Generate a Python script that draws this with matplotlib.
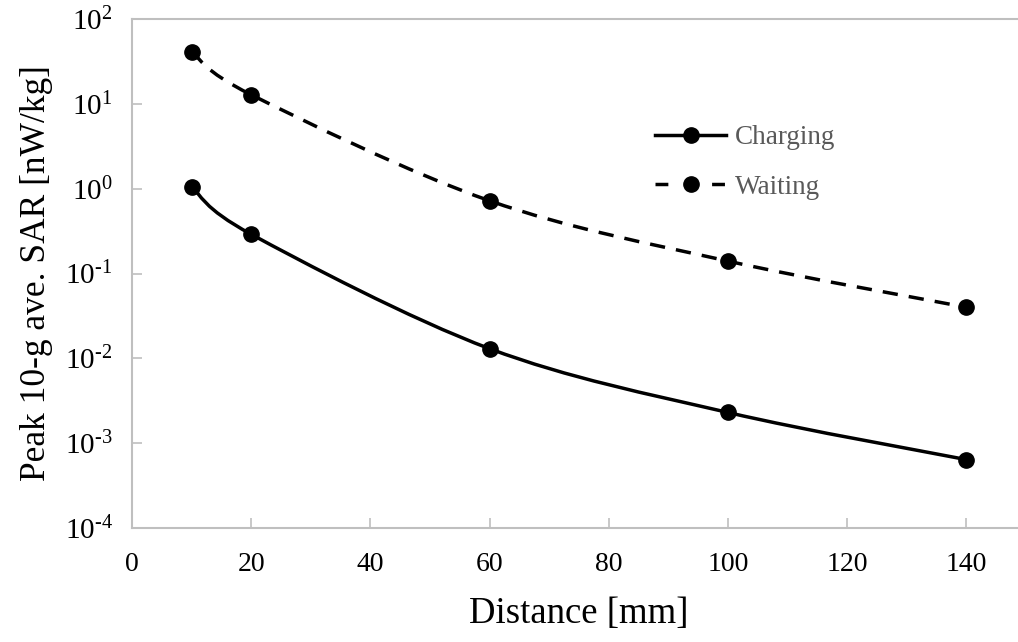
import matplotlib
matplotlib.use("Agg")
import numpy as np
import matplotlib.pyplot as plt
from matplotlib.path import Path
from matplotlib.patches import PathPatch
from matplotlib.lines import Line2D

plt.rcParams['font.family'] = ['Liberation Serif', 'DejaVu Serif']
plt.rcParams['mathtext.fontset'] = 'custom'
plt.rcParams['mathtext.rm'] = 'Liberation Serif'
plt.rcParams['mathtext.it'] = 'Liberation Serif:italic'

# data
distance = [10, 20, 60, 100, 140]
sar_charging = [1.05, 0.29, 0.013, 0.0023, 0.00064]
sar_waiting = [41, 12.8, 0.72, 0.14, 0.040]

x_ticks = [0, 20, 40, 60, 80, 100, 120, 140]
y_exponents = [-4, -3, -2, -1, 0, 1, 2]


def smooth_path(xs, ys):
    # Catmull-Rom style bezier through the points, built in (x, log y) space
    px = np.array(xs, dtype=float)
    py = np.log10(np.array(ys, dtype=float))
    n = len(px)
    verts = [(px[0], py[0])]
    codes = [Path.MOVETO]
    for i in range(n - 1):
        i0 = max(i - 1, 0)
        i3 = min(i + 2, n - 1)
        c1 = (px[i] + (px[i + 1] - px[i0]) / 6, py[i] + (py[i + 1] - py[i0]) / 6)
        c2 = (px[i + 1] - (px[i3] - px[i]) / 6, py[i + 1] - (py[i3] - py[i]) / 6)
        verts += [c1, c2, (px[i + 1], py[i + 1])]
        codes += [Path.CURVE4] * 3
    verts = [(vx, 10 ** vy) for vx, vy in verts]
    return Path(verts, codes)


fig = plt.figure(figsize=(10.18, 6.42), dpi=100)
ax = fig.add_axes([132 / 1018, (642 - 528) / 642, (1026 - 132) / 1018, (528 - 19) / 642])
ax.set_yscale('log')
ax.set_xlim(0, 150)
ax.set_ylim(1e-4, 1e2)

lw = 2.5
ms = 11
ax.add_patch(PathPatch(smooth_path(distance, sar_charging), fill=False,
                       edgecolor='black', lw=lw, capstyle='butt'))
ax.add_patch(PathPatch(smooth_path(distance, sar_waiting), fill=False,
                       edgecolor='black', lw=lw, linestyle=(0, (4.4, 3.2)), capstyle='butt'))
ax.plot(distance, sar_charging, 'o', color='black', ms=ms, zorder=3)
ax.plot(distance, sar_waiting, 'o', color='black', ms=ms, zorder=3)

ax.set_xticks(x_ticks)
ax.set_yticks([10.0 ** e for e in y_exponents])
ax.set_yticklabels(['10$^{\\text{%d}}$' % e for e in y_exponents])
ax.minorticks_off()
ax.tick_params(axis='both', direction='in', length=7, width=1.2, color='#bfbfbf')
ax.tick_params(axis='x', pad=17, labelsize=20)
ax.tick_params(axis='y', pad=14, labelsize=21)
for side in ['left', 'bottom', 'top']:
    ax.spines[side].set_color('#bfbfbf')
    ax.spines[side].set_linewidth(1.5)
ax.spines['right'].set_visible(False)

ax.set_xlabel('Distance [mm]', fontsize=26.5, labelpad=14)
ax.set_ylabel('Peak 10-g ave. SAR [nW/kg]', fontsize=25.5, labelpad=8)

handles = [
    Line2D([], [], color='black', lw=lw, marker='o', ms=ms),
    Line2D([], [], color='black', lw=lw, marker='o', ms=ms, linestyle=(0, (3.7, 12.6))),
]
leg = ax.legend(handles, ['Charging', 'Waiting'], loc='upper left',
                bbox_to_anchor=(631 / 1018, 1 - 101 / 642), bbox_transform=fig.transFigure,
                frameon=False, fontsize=19.5, handlelength=2.6, handletextpad=0.35,
                labelspacing=0.9, labelcolor='#595959')

fig.savefig('out.png', dpi=100)
